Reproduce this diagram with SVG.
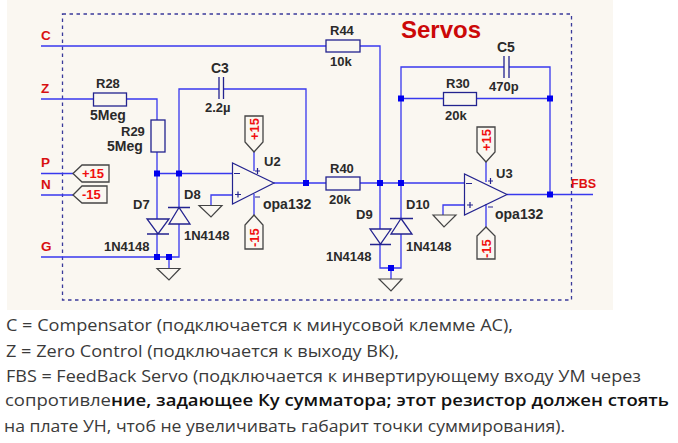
<svg xmlns="http://www.w3.org/2000/svg" width="678" height="443" viewBox="0 0 678 443">
<style>
.w{fill:none;stroke:#3838ee;stroke-width:1.3}
.b{fill:none;stroke:#23238f;stroke-width:1.3}
.o{fill:none;stroke:#23238f;stroke-width:1.2}
.g{fill:none;stroke:#444;stroke-width:1.2}
.t{fill:none;stroke:#444;stroke-width:1.3}
.box{fill:none;stroke:#3a3a9a;stroke-width:1.3;stroke-dasharray:3.500 3.500}
text{font-family:"Liberation Sans",Arial,sans-serif}
.l{font-size:13px;font-weight:bold;fill:#2a2a2a}
.m{font-size:14px;font-weight:bold;fill:#2a2a2a}
.r{font-size:13.500px;font-weight:bold;fill:#d81010}
.p{font-size:13px;font-weight:bold;fill:#f01010}
.x{font-family:"Open Sans","Noto Sans",sans-serif;font-size:16px;fill:#3a3a3a}
</style>
<rect x="7" y="0" width="606" height="310" fill="#faf7f1"/>
<rect id="frame" x="62.500" y="14" width="509" height="286" class="box"/>
<text x="401" y="37.500" font-size="24" font-weight="bold" fill="#cc0808">Servos</text>
<g id="connectors">
<path class="w" d="M41 46H326M360 46H380V183M41 99H93M126 99H157V120M157 152V219M157 234V257M41 257H179V224M179 207V173.500M157 173.500H232M179 173.500V89H219M223 89H306V183M232 195H211V205M274 183H326M360 183H465M465 205H443V215M507 194.500H593M550 194.500V67H509M504 67H401V218M401 98.500H443M476 98.500H550M41 173.500H73M41 195H73M254 152V171M254 194V215M486 162V182M486 204V227M169 257V268M380 183V229M380 244V268H401V234M391 268V279"/>
<g fill="#0000ee"><rect x="154" y="170.500" width="6" height="6"/><rect x="176" y="170.500" width="6" height="6"/><rect x="154" y="254" width="6" height="6"/><rect x="166" y="254" width="6" height="6"/><rect x="303" y="180" width="6" height="6"/><rect x="377" y="180" width="6" height="6"/><rect x="398" y="180" width="6" height="6"/><rect x="398" y="95.500" width="6" height="6"/><rect x="547" y="95.500" width="6" height="6"/><rect x="547" y="191.500" width="6" height="6"/><rect x="388" y="265" width="6" height="6"/></g>
</g>
<g id="R44"><rect class="b" x="326" y="40" width="34" height="12"/><text class="l" x="330" y="35">R44</text><text class="l" x="330" y="66">10k</text></g>
<g id="R28"><rect class="b" x="93.500" y="93" width="33" height="13"/><text class="l" x="96" y="88">R28</text><text class="m" x="90" y="120">5Meg</text></g>
<g id="R29"><rect class="b" x="151" y="120" width="14" height="32"/><text class="l" x="121" y="136">R29</text><text class="m" x="107" y="151">5Meg</text></g>
<g id="C3"><path class="b" d="M219 77V99M223.500 77V99"/><text class="m" x="211" y="73">C3</text><text class="l" x="205" y="112">2.2µ</text></g>
<g id="C5"><path class="b" d="M504 56V78M509 56V78"/><text class="m" x="497" y="52">C5</text><text class="l" x="489" y="91">470p</text></g>
<g id="R30"><rect class="b" x="443.500" y="92.500" width="33" height="13"/><text class="l" x="446" y="88">R30</text><text class="l" x="445" y="120">20k</text></g>
<g id="R40"><rect class="b" x="326" y="177" width="34" height="13"/><text class="l" x="330" y="173">R40</text><text class="l" x="329" y="204">20k</text></g>
<g id="U2"><path class="o" d="M232.500 163V204L274 183Z"/><path class="o" d="M234 173.500H240M235 194.500H241M238 191.500V197.500M255 171H260M257.500 168V174M255 197H260"/><text class="l" x="264" y="166">U2</text><text class="m" x="263" y="209">opa132</text></g>
<g id="U3"><path class="o" d="M464.500 174V215L507 194.500Z"/><path class="o" d="M466 183.500H472M467 205H473M470 202V208M488 181H493M490.500 178V184M488 207H493"/><text class="l" x="496" y="178">U3</text><text class="m" x="495" y="219">opa132</text></g>
<g id="D7"><path class="b" d="M147 219H169L158 234ZM147 234H169"/><text class="l" x="133" y="209">D7</text><text class="l" x="104" y="251">1N4148</text></g>
<g id="D8"><path class="b" d="M168 207.500H190M179 207.500L169 224H190Z"/><text class="l" x="184" y="199">D8</text><text class="l" x="184" y="240">1N4148</text></g>
<g id="D9"><path class="b" d="M370 229H391L380.500 244ZM370 244.500H391"/><text class="l" x="356" y="219">D9</text><text class="l" x="326" y="261">1N4148</text></g>
<g id="D10"><path class="b" d="M390 218.500H413M401 218.500L391 234H412Z"/><text class="l" x="406" y="209">D10</text><text class="l" x="406" y="251">1N4148</text></g>
<g id="GND1"><path class="g" d="M199 205.500H222L211 217Z"/></g>
<g id="GND2"><path class="g" d="M157 268.500H180L169 280Z"/></g>
<g id="GND3"><path class="g" d="M379 279H402L391 291Z"/></g>
<g id="GND4"><path class="g" d="M433 215H456L444 227Z"/></g>
<g id="P"><text class="r" x="41" y="167">P</text><path class="t" d="M73 173.500L82 165H109V182H82Z"/><text class="p" x="82" y="178">+15</text></g>
<g id="N"><text class="r" x="41" y="189">N</text><path class="t" d="M73 195L82 186H107V203H82Z"/><text class="p" x="82" y="199">-15</text></g>
<g id="C"><text class="r" x="41" y="40">C</text></g>
<g id="Z"><text class="r" x="41" y="93">Z</text></g>
<g id="G"><text class="r" x="41" y="251">G</text></g>
<g id="FBS"><text x="571" y="188" font-size="12.500" font-weight="bold" fill="#e01010">FBS</text></g>
<g id="U2p"><path class="t" d="M245 116H263V142L254 152L245 142Z"/><text class="p" transform="translate(258.500 140) rotate(-90)">+15</text></g>
<g id="U2n"><path class="t" d="M254 215L263 225V249H245V225Z"/><text class="p" transform="translate(258.500 247) rotate(-90)">-15</text></g>
<g id="U3p"><path class="t" d="M477 127H495V152L486 162L477 152Z"/><text class="p" transform="translate(490.500 151) rotate(-90)">+15</text></g>
<g id="U3n"><path class="t" d="M486 227L495 236V259H477V236Z"/><text class="p" transform="translate(490.500 258) rotate(-90)">-15</text></g>
<g id="notes">
<text class="x" x="6" y="331" textLength="507" lengthAdjust="spacingAndGlyphs">C = Compensator (подключается к минусовой клемме АС),</text>
<text class="x" x="6" y="357" textLength="393" lengthAdjust="spacingAndGlyphs">Z = Zero Control (подключается к выходу ВК),</text>
<text class="x" x="6" y="382" textLength="635" lengthAdjust="spacingAndGlyphs">FBS = FeedBack Servo (подключается к инвертирующему входу УМ через</text>
<text class="x" x="5" y="406" textLength="664" lengthAdjust="spacingAndGlyphs">сопротивле<tspan font-weight="600" fill="#111">ние, задающее Ку сумматора; этот резистор должен стоять</tspan></text>
<text class="x" x="4" y="432" textLength="561" lengthAdjust="spacingAndGlyphs">на плате УН, чтоб не увеличивать габарит точки суммирования).</text>
</g>
</svg>
